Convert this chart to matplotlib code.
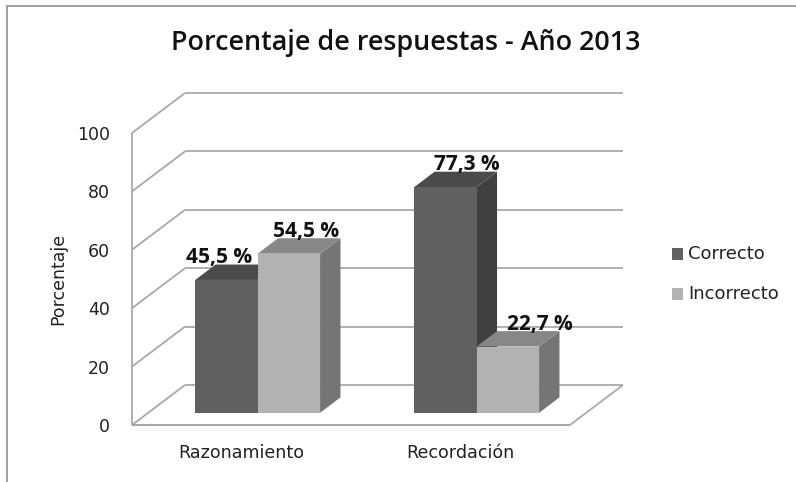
import matplotlib
matplotlib.use("Agg")
import matplotlib.pyplot as plt
from matplotlib.patches import Polygon, Rectangle
from matplotlib.lines import Line2D

categories = ["Razonamiento", "Recordación"]
series_names = ["Correcto", "Incorrecto"]
correcto = [45.5, 77.3]
incorrecto = [54.5, 22.7]
value_ticks = [0, 20, 40, 60, 80, 100]
title_text = "Porcentaje de respuestas - Año 2013"
y_label = "Porcentaje"

W, H = 796, 482
fig = plt.figure(figsize=(W / 100, H / 100), dpi=100)
L, R, B, T = 132, 570, 425, 133
ax = fig.add_axes([L / W, 1 - B / H, (R - L) / W, (B - T) / H])
ax.set_xlim(-0.5, 1.5)
ax.set_ylim(0, 100)
ax.axis("off")

GRID = "#a6a6a6"
PX_X = (R - L) / 2.0     # pixels per category
PX_Y = (B - T) / 100.0   # pixels per value unit
DX = 53 / PX_X
DY = 40 / PX_Y


def P(x, v, d):
    return (x + d * DX, v + d * DY)


def line(a, b, lw=1.25, z=1, color=GRID):
    ax.add_line(Line2D([a[0], b[0]], [a[1], b[1]], color=color, lw=lw, zorder=z,
                       clip_on=False, solid_capstyle="butt"))


x0, x1 = -0.5, 1.5
for v in value_ticks:
    line(P(x0, v, 0), P(x0, v, 1))
    line(P(x0, v, 1), P(x1, v, 1))
line(P(x0, 0, 0), P(x0, 100, 0))
line(P(x0, 0, 0), P(x1, 0, 0), lw=1.5)
line(P(x1, 0, 0), P(x1, 0, 1))

BW = 0.285
D0, D1 = 0.305, 0.69
styles = {
    0: ("#606060", "#4a4a4a", "#404040"),
    1: ("#b2b2b2", "#878787", "#757575"),
}
offsets = [-BW, 0.0]
data = [correcto, incorrecto]
# manual placement of the value labels (pixels), per series then category
label_shift_px = [[-28, 1], [-3, 12]]

for cat in range(len(categories)):
    for s in (0, 1):
        v = data[s][cat]
        front, top, side = styles[s]
        xl = cat + offsets[s]
        xr = xl + BW
        z = 3 + cat * 2 + s * 0.5
        base = D0 * DY
        ax.add_patch(Polygon([P(xr, 0, D0), P(xr, 0, D1), P(xr, v, D1), P(xr, v, D0)],
                             closed=True, fc=side, ec="none", zorder=z, clip_on=False))
        ax.add_patch(Polygon([P(xl, v, D0), P(xl, v, D1), P(xr, v, D1), P(xr, v, D0)],
                             closed=True, fc=top, ec="none", zorder=z, clip_on=False))
        ax.bar(xl + D0 * DX, v, width=BW, bottom=base, align="edge", color=front,
               zorder=z + 0.1, clip_on=False)
        tx, ty = P(xl + BW / 2, v, D1)
        ax.text(tx + label_shift_px[s][cat] / PX_X, ty + 7 / PX_Y,
                f"{v:.1f} %".replace(".", ","), ha="center", va="center",
                fontsize=15, fontweight="bold", family="Open Sans", color="#111111",
                zorder=20, clip_on=False)

for v in value_ticks:
    ax.text(-0.5 - 22 / PX_X, v - 0.7, str(v), ha="right", va="center", fontsize=12.5,
            color="#222222", family="DejaVu Sans")
for i, c in enumerate(categories):
    ax.text(i, -9.5, c, ha="center", va="center", fontsize=12.6, color="#222222",
            family="DejaVu Sans")

fig.text(58 / W, 1 - 279 / H, y_label, rotation=90, ha="center", va="center",
         fontsize=12.5, color="#222222")
fig.text(406 / W, 1 - 43 / H, title_text, ha="center", va="center", fontsize=19.4,
         family="Open Sans", fontweight="semibold", color="#111111")

leg = [("#606060", 254), ("#b2b2b2", 294)]
for (col, y), name in zip(leg, series_names):
    fig.add_artist(Rectangle((672 / W, 1 - (y + 6) / H), 11 / W, 12 / H, fc=col, ec="none",
                             transform=fig.transFigure))
    fig.text(688 / W, 1 - y / H, name, ha="left", va="center", fontsize=13, color="#222222")

fig.add_artist(Line2D([7 / W, 7 / W], [0, 1 - 6 / H], color="#a0a0a0", lw=1.4))
fig.add_artist(Line2D([7 / W, 1], [1 - 6 / H, 1 - 6 / H], color="#a0a0a0", lw=1.4))

fig.savefig("out.png", dpi=100)
